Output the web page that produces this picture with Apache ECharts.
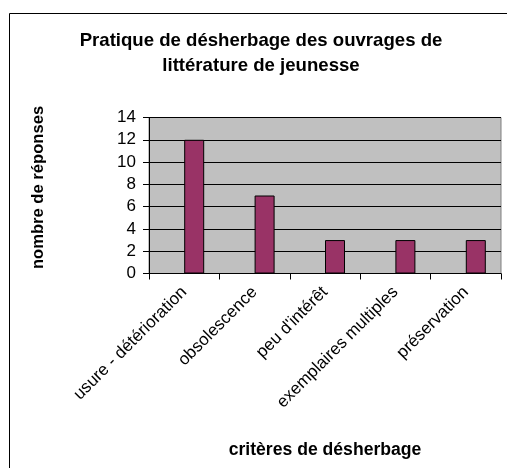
<!DOCTYPE html>
<html>
<head>
<meta charset="utf-8">
<script src="https://cdn.jsdelivr.net/npm/echarts@6/dist/echarts.min.js"></script>
<style>
html,body{margin:0;padding:0;background:#fff;}
#chart{width:507px;height:468px;}
</style>
</head>
<body>
<div id="chart"></div>
<script>
const chartTitle = 'Pratique de désherbage des ouvrages de\nlittérature de jeunesse';
const xAxisTitle = 'critères de désherbage';
const yAxisTitle = 'nombre de réponses';
const categories = ['usure - détérioration', 'obsolescence', "peu d'intérêt", 'exemplaires multiples', 'préservation'];
const responses = [12, 7, 3, 3, 3];
const emptySeries = [null, null, null, null, null];
const yTicks = [0, 2, 4, 6, 8, 10, 12, 14];

const FONT = '"Liberation Sans", Arial, sans-serif';
const chart = echarts.init(document.getElementById('chart'), null, {renderer: 'canvas'});
chart.setOption({
  animation: false,
  backgroundColor: '#ffffff',
  textStyle: {fontFamily: FONT},
  graphic: [{
    type: 'rect',
    shape: {x: 9.5, y: 13.5, width: 520, height: 480},
    style: {fill: null, stroke: '#000', lineWidth: 1},
    silent: true,
    z: -1
  }],
  title: {
    text: chartTitle,
    left: 256,
    top: 23,
    textAlign: 'center',
    textStyle: {fontFamily: FONT, fontSize: 18.6, fontWeight: 'bold', color: '#000', lineHeight: 25}
  },
  grid: {
    left: 149, right: 6, top: 117.5, bottom: 194.5,
    show: true, backgroundColor: '#C0C0C0', borderColor: '#808080', borderWidth: 1,
    containLabel: false
  },
  xAxis: {
    type: 'category',
    data: categories,
    boundaryGap: true,
    name: xAxisTitle,
    nameLocation: 'middle',
    nameGap: 168,
    nameTextStyle: {fontFamily: FONT, fontSize: 17.6, fontWeight: 'bold', color: '#000'},
    axisLine: {show: true, lineStyle: {color: '#000', width: 1}},
    axisTick: {show: true, length: 6, interval: 0, lineStyle: {color: '#000'}},
    axisLabel: {interval: 0, rotate: 45, margin: 16, fontFamily: FONT, fontSize: 17, color: '#000'},
    splitLine: {show: false}
  },
  yAxis: {
    type: 'value',
    min: yTicks[0],
    max: yTicks[yTicks.length - 1],
    interval: yTicks[1] - yTicks[0],
    name: yAxisTitle,
    nameLocation: 'middle',
    nameGap: 102,
    nameRotate: 90,
    nameTextStyle: {fontFamily: FONT, fontSize: 16.6, fontWeight: 'bold', color: '#000', padding: [0, 0, 0, 16]},
    axisLine: {show: true, lineStyle: {color: '#000', width: 1}},
    axisTick: {show: true, length: 6, lineStyle: {color: '#000'}},
    axisLabel: {margin: 13, fontFamily: FONT, fontSize: 17, color: '#000'},
    splitLine: {show: true, lineStyle: {color: '#000', width: 1}}
  },
  series: [
    {
      type: 'bar',
      data: emptySeries,
      barWidth: 20,
      barGap: '0%',
      itemStyle: {color: '#9999FF', borderColor: '#000', borderWidth: 1}
    },
    {
      type: 'bar',
      data: responses,
      barWidth: 20,
      barGap: '0%',
      itemStyle: {color: '#993366', borderColor: '#000', borderWidth: 1}
    }
  ]
});
</script>
</body>
</html>
